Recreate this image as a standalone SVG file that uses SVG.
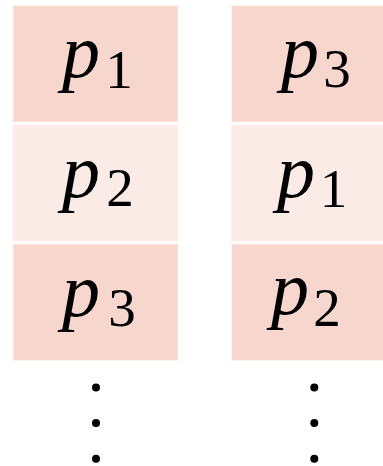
<svg xmlns="http://www.w3.org/2000/svg" width="383" height="466" viewBox="0 0 383 466">
<style>
.dark{fill:#f7d7cd}
.light{fill:#fbebe6}
.box{stroke:#fdf1ed;stroke-width:1}
.p{font-family:'Liberation Serif','Times New Roman',serif;font-style:italic;font-size:76px;fill:#000}
.s{font-family:'Liberation Serif','Times New Roman',serif;font-style:normal;font-size:55px;fill:#000;text-anchor:middle}
.dot{fill:#000}
</style>
<rect width="383" height="466" fill="#fff"/>
<g id="left-p1"><rect class="box dark" x="13" y="5.5" width="165" height="116.5"/><text class="p" x="62" y="77">p</text><text class="s" x="119" y="88">1</text></g>
<g id="left-p2"><rect class="box light" x="13" y="125" width="165" height="116"/><text class="p" x="62" y="197">p</text><text class="s" x="120" y="206">2</text></g>
<g id="left-p3"><rect class="box dark" x="13" y="244" width="165" height="116.5"/><text class="p" x="62" y="316">p</text><text class="s" x="122" y="326">3</text></g>
<g id="right-p3"><rect class="box dark" x="231.5" y="5.5" width="166" height="116.5"/><text class="p" x="281" y="77">p</text><text class="s" x="337" y="87">3</text></g>
<g id="right-p1"><rect class="box light" x="231.5" y="125" width="166" height="116"/><text class="p" x="277" y="197">p</text><text class="s" x="333.5" y="207">1</text></g>
<g id="right-p2"><rect class="box dark" x="231.5" y="244" width="166" height="116.5"/><text class="p" x="271" y="314">p</text><text class="s" x="327" y="326">2</text></g>
<g id="dots-left"><circle class="dot" cx="96" cy="387.5" r="4"/><circle class="dot" cx="96" cy="423" r="4"/><circle class="dot" cx="96" cy="458.7" r="4"/></g>
<g id="dots-right"><circle class="dot" cx="314.3" cy="387.5" r="4"/><circle class="dot" cx="314.3" cy="423" r="4"/><circle class="dot" cx="314.3" cy="458.7" r="4"/></g>
<g id="connectors"></g>
</svg>
